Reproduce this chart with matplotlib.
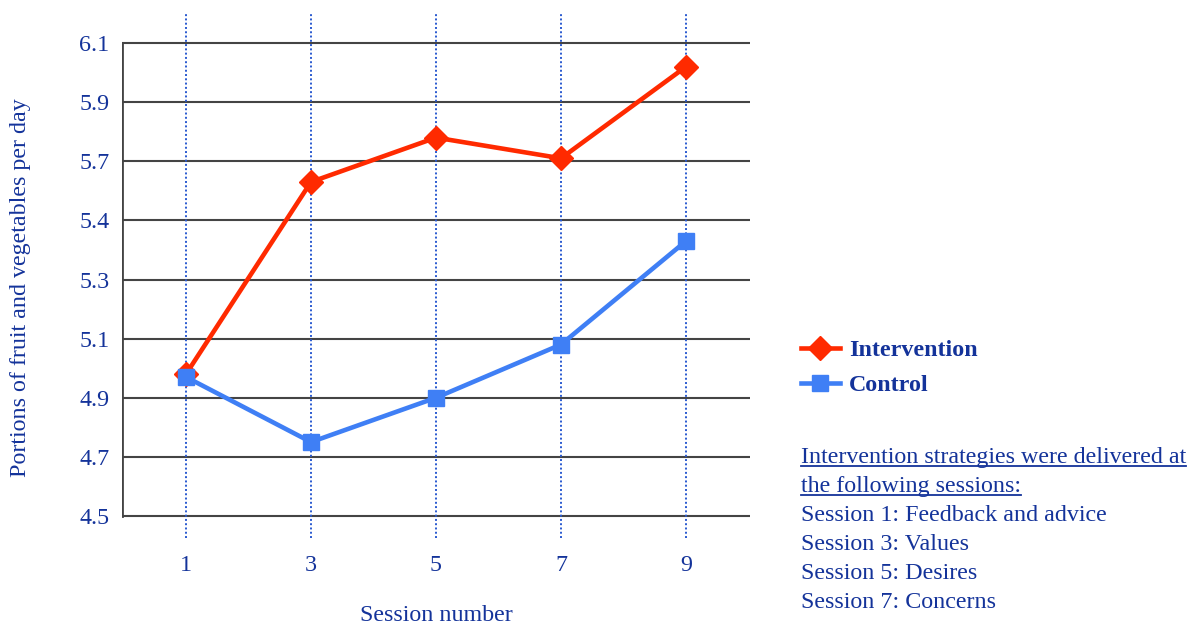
import matplotlib
matplotlib.use('Agg')
import matplotlib.pyplot as plt
from matplotlib.lines import Line2D

sessions = [1, 3, 5, 7, 9]
intervention = [4.98, 5.63, 5.78, 5.71, 6.02]
control = [4.97, 4.75, 4.90, 5.08, 5.43]

y_ticks = [4.5, 4.7, 4.9, 5.1, 5.3, 5.5, 5.7, 5.9, 6.1]
y_tick_labels = ['4.5', '4.7', '4.9', '5.1', '5.3', '5.4', '5.7', '5.9', '6.1']

notes_title = ['Intervention strategies were delivered at', 'the following sessions:']
notes = ['Session 1: Feedback and advice', 'Session 3: Values',
         'Session 5: Desires', 'Session 7: Concerns']

text_col = '#14339a'
red = '#ff2a00'
blue = '#3f7ff5'
fs = 17.3
plt.rcParams['font.family'] = ['Liberation Serif', 'DejaVu Serif']

fig = plt.figure(figsize=(12.04, 6.26), dpi=100)
ax = fig.add_axes([122 / 1204, 88 / 626, 628 / 1204, 526 / 626])
ax.set_xlim(-0.024, 10.024)
ax.set_ylim(4.4255, 6.205)
for s in ax.spines.values():
    s.set_visible(False)

# grid lines + left axis
for v in y_ticks:
    ax.plot([-0.024, 10.0], [v, v], color='#444444', lw=1.5, zorder=1)
ax.plot([-0.024, -0.024], [4.5, 6.1], color='#444444', lw=2, zorder=1)
for s in sessions:
    ax.axvline(s, color='#2a5ad0', ls=(0, (1, 1.2)), lw=1.4, zorder=1)

ax.plot(sessions, intervention, color=red, lw=3.3, marker='D', ms=12,
        label='Intervention', zorder=3)
ax.plot(sessions, control, color=blue, lw=3.3, marker='s', ms=12,
        label='Control', zorder=4)

ax.set_yticks(y_ticks)
ax.set_yticklabels(y_tick_labels)
ax.set_xticks(sessions)
ax.tick_params(length=0, labelsize=fs, labelcolor=text_col)
ax.tick_params(axis='y', pad=9)
ax.tick_params(axis='x', pad=12)
ax.set_xlabel('Session number', fontsize=fs, color=text_col, labelpad=21)
fig.text(21 / 1204, 1 - 288 / 626, 'Portions of fruit and vegetables per day',
         fontsize=fs, color=text_col, rotation=90, ha='center', va='center')

leg = fig.legend(loc='upper left', bbox_to_anchor=(779 / 1204, 1 - 318 / 626),
                 frameon=False, handlelength=1.65, handletextpad=0.35,
                 labelspacing=0.55, prop={'weight': 'bold', 'size': fs})
for t in leg.get_texts():
    t.set_color(text_col)

x0 = 801 / 1204
y = 1 - 458 / 626
step = 28.8 / 626
title_texts = []
for line in notes_title:
    title_texts.append(fig.text(x0, y, line, fontsize=fs, color=text_col, va='center'))
    y -= step
for line in notes:
    fig.text(x0, y, line, fontsize=fs, color=text_col, va='center')
    y -= step

fig.canvas.draw()
r = fig.canvas.get_renderer()
for t in title_texts:
    bb = t.get_window_extent(r).transformed(fig.transFigure.inverted())
    uy = bb.y0 + 0.004
    fig.add_artist(Line2D([bb.x0, bb.x1], [uy, uy], color=text_col, lw=1.3,
                          transform=fig.transFigure))

fig.savefig('out.png', dpi=100)
